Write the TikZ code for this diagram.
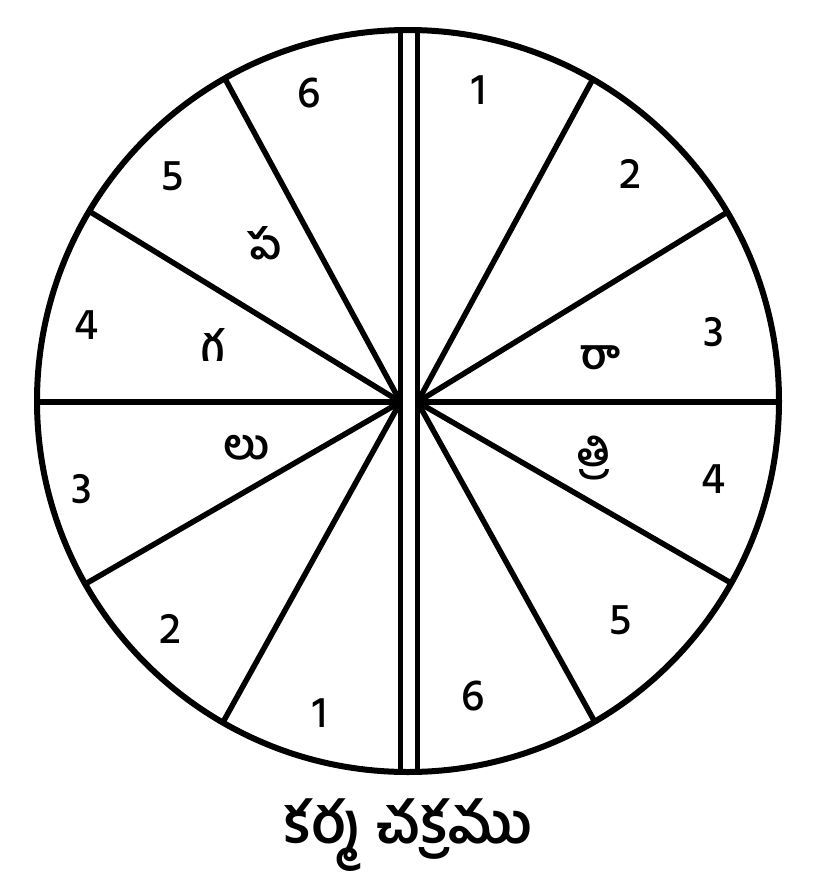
\documentclass[tikz,border=0pt]{standalone}
\usepackage{fontspec}
\setmainfont{Hind Guntur Medium}
\newfontfamily\telugu[Script=Telugu]{Hind Guntur SemiBold}
\usetikzlibrary{positioning}

\tikzset{
  num/.style={font=\fontsize{44}{44}\selectfont},
  syl/.style={font=\telugu\fontsize{42}{42}\selectfont},
  spoke/.style={line width=5.5pt},
}

\begin{document}
\begin{tikzpicture}[x=1pt, y=-1pt]
  \useasboundingbox (0,0) rectangle (816,892);
  \coordinate (c) at (408,401);
  \coordinate (cl) at (400.5,402);
  \coordinate (cr) at (417.5,402);

  % spokes, clipped by the wheel (y grows downwards here)
  \begin{scope}
    \clip (c) circle (371);
    \foreach \a in {211.5,241.5,180,150,119}
      \draw[spoke] (cl) -- ++(\a:600);
    \foreach \a in {328.5,298.5,0,30,61}
      \draw[spoke] (cr) -- ++(\a:600);
    % double axle
    \fill[white] (400.5,0) rectangle (417.5,800);
    \draw[line width=5pt] (400.5,0) -- (400.5,800);
    \draw[line width=5pt] (417.5,0) -- (417.5,800);
  \end{scope}
  \draw[line width=6pt] (c) circle (371);

  % day half
  \node[num] (l6) at (309,93) {6};
  \node[num] (l5) at (173,176) {5};
  \node[num] (l4) at (87,325) {4};
  \node[num] (l3) at (82,489) {3};
  \node[num] (l2) at (170,629) {2};
  \node[num] (l1) at (320,713) {1};
  \node[syl] (pa) at (265,243) {ప};
  \node[syl] (ga) at (213,345) {గ};
  \node[syl] (lu) at (246,448) {లు};

  % night half
  \node[num] (r1) at (479,90) {1};
  \node[num] (r2) at (630,174) {2};
  \node[num] (r3) at (714,332) {3};
  \node[num] (r4) at (714,479) {4};
  \node[num] (r5) at (621,620) {5};
  \node[num] (r6) at (473,696) {6};
  \node[syl] (raa) at (600,358) {రా};
  \node[syl] (tri) at (594,458) {త్రి};

  \node[font=\telugu\fontsize{57}{57}\selectfont] (title) at (408,835) {కర్మ చక్రము};
\end{tikzpicture}
\end{document}
